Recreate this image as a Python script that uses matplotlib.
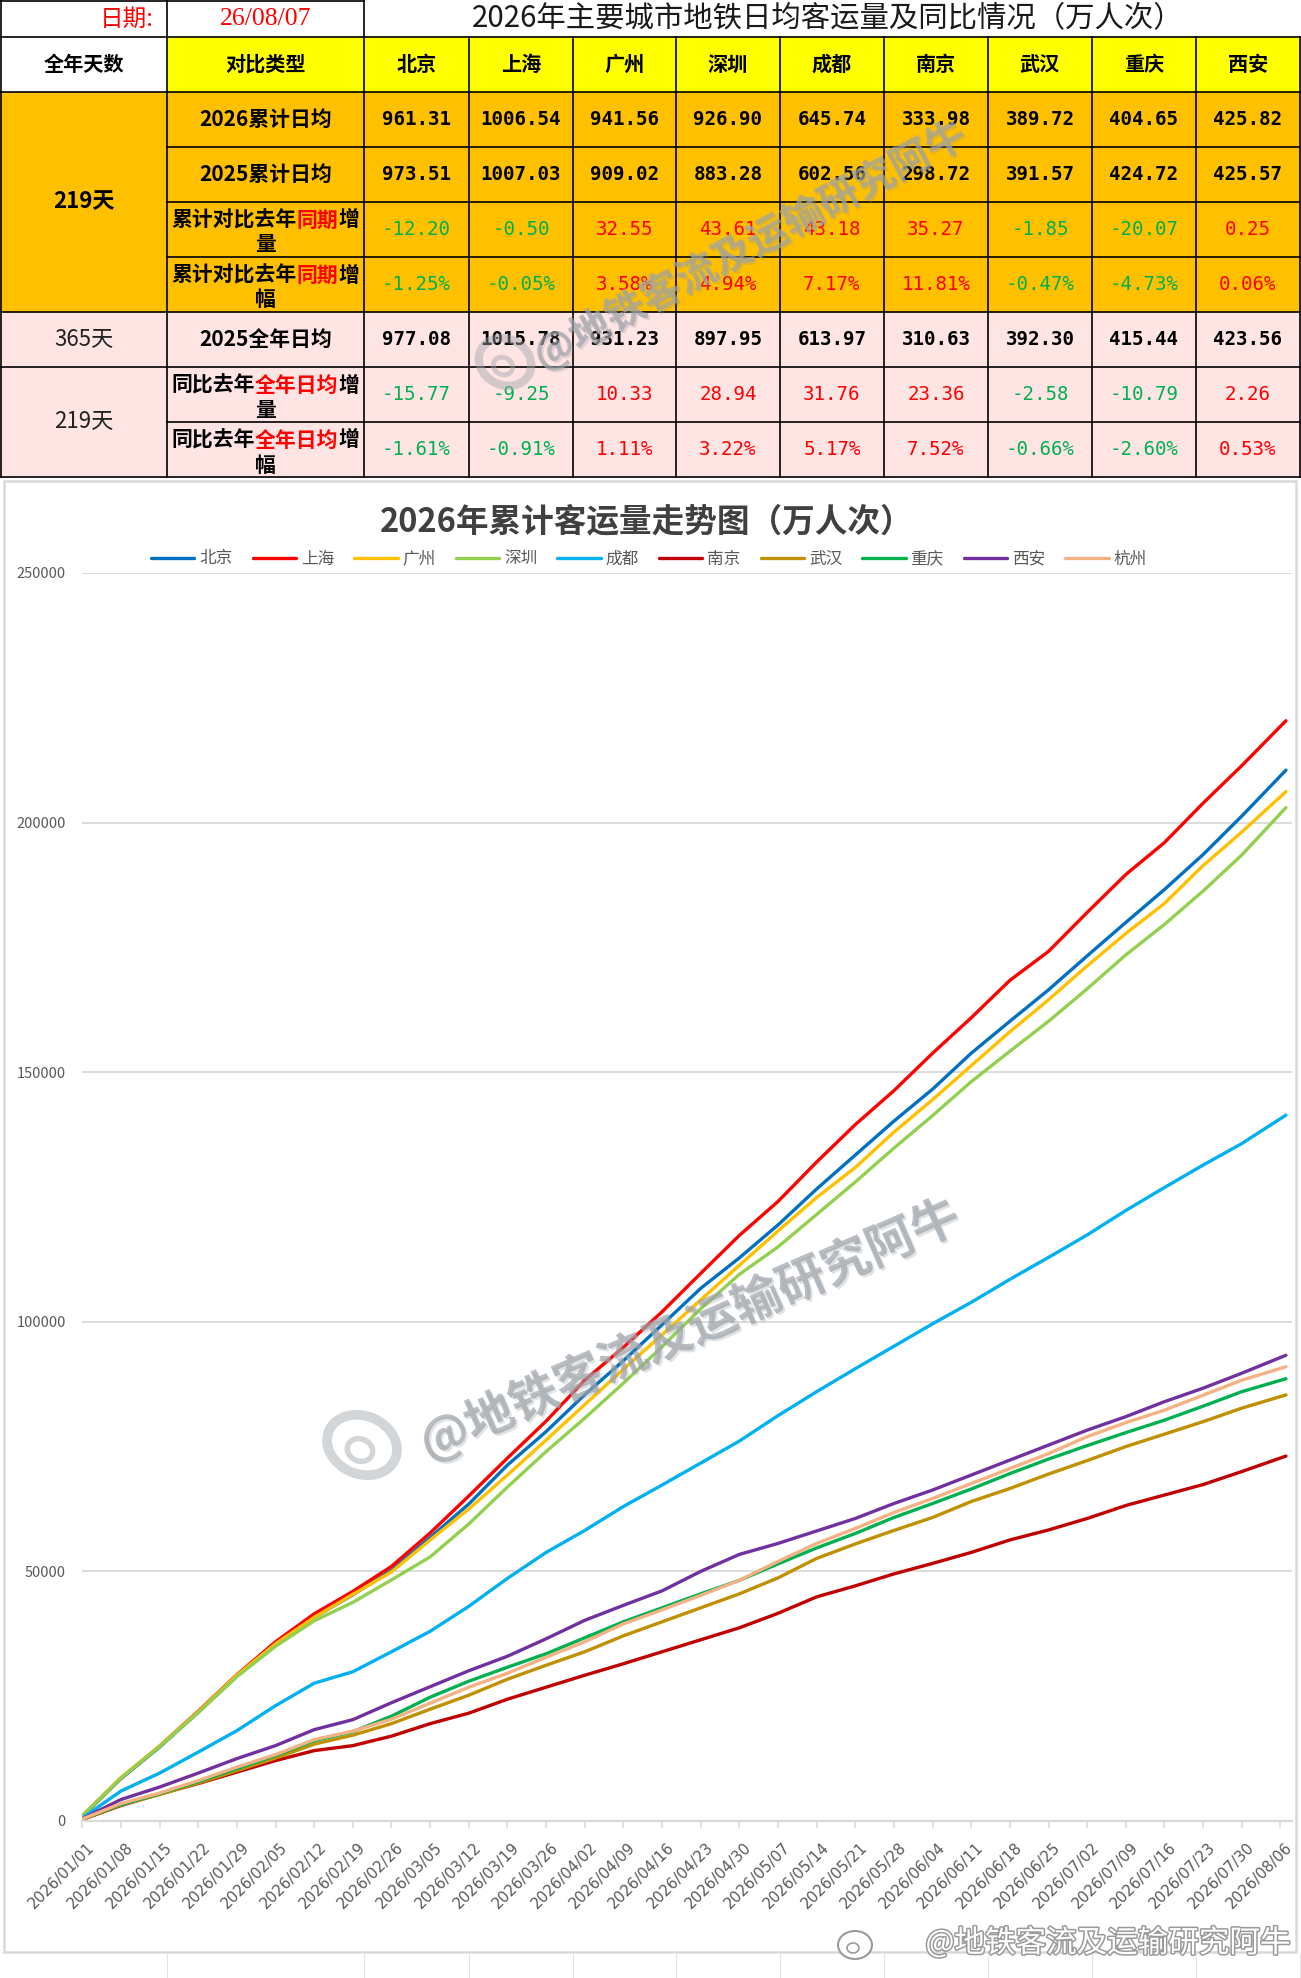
import matplotlib
matplotlib.use('Agg')
import matplotlib.pyplot as plt
from matplotlib.patches import Rectangle, Ellipse
import matplotlib.patheffects as pe
from matplotlib.transforms import ScaledTranslation

plt.rcParams['font.family'] = ['Noto Sans CJK SC', 'DejaVu Sans']

# ---------------- table data ----------------
cities = ['北京', '上海', '广州', '深圳', '成都', '南京', '武汉', '重庆', '西安']
avg_2026_cum = [961.31, 1006.54, 941.56, 926.90, 645.74, 333.98, 389.72, 404.65, 425.82]
avg_2025_cum = [973.51, 1007.03, 909.02, 883.28, 602.56, 298.72, 391.57, 424.72, 425.57]
diff_cum = [-12.20, -0.50, 32.55, 43.61, 43.18, 35.27, -1.85, -20.07, 0.25]
pct_cum = [-1.25, -0.05, 3.58, 4.94, 7.17, 11.81, -0.47, -4.73, 0.06]
avg_2025_full = [977.08, 1015.78, 931.23, 897.95, 613.97, 310.63, 392.30, 415.44, 423.56]
diff_full = [-15.77, -9.25, 10.33, 28.94, 31.76, 23.36, -2.58, -10.79, 2.26]
pct_full = [-1.61, -0.91, 1.11, 3.22, 5.17, 7.52, -0.66, -2.60, 0.53]

# ---------------- chart data (cumulative, 万人次) ----------------
series_names = ['北京', '上海', '广州', '深圳', '成都', '南京', '武汉', '重庆', '西安', '杭州']
series_colors = ['#0070C0', '#FF0000', '#FFC000', '#92D050', '#00B0F0',
                 '#C00000', '#BF9000', '#00B050', '#7030A0', '#F4B183']
days = [0, 7, 14, 21, 28, 35, 42, 49, 56, 63, 70, 77, 84, 91, 98, 105, 112, 119,
        126, 133, 140, 147, 154, 161, 168, 175, 182, 189, 196, 203, 210, 218]
bj = [900, 8500, 14800, 21800, 29100, 35600, 40800, 45300, 50200, 56800, 63500, 71300,
      78000, 85400, 92200, 99400, 106700, 112800, 119400, 126600, 133400, 140200, 146600,
      153800, 160200, 166500, 173300, 180000, 186600, 193600, 201300, 210500]
sh = [1000, 8600, 15000, 22000, 29300, 35900, 41500, 46000, 51000, 57700, 65100, 72700,
      80100, 88300, 94900, 102000, 109700, 117300, 124100, 132000, 139500, 146300, 153800,
      160900, 168400, 174200, 182000, 189600, 196000, 203900, 211400, 220400]
gz = [1000, 8700, 15000, 21900, 29200, 35500, 40800, 45400, 49900, 56300, 62500, 69300,
      76300, 83400, 90500, 97400, 104400, 111300, 118200, 124900, 130900, 138000, 144500,
      151300, 158100, 164500, 171300, 177800, 183800, 191400, 198100, 206200]
sz = [1000, 8600, 14900, 21700, 28900, 35000, 40100, 43800, 48300, 52900, 59500, 66900,
      74000, 80700, 87700, 95000, 102600, 109500, 115000, 121500, 128000, 134800, 141300,
      148100, 154200, 160200, 166700, 173500, 179600, 186300, 193500, 203000]
cd = [600, 6000, 9600, 13800, 18100, 23100, 27600, 29900, 33900, 38000, 43000, 48600,
      53800, 58200, 63000, 67300, 71700, 76100, 81200, 86000, 90600, 95100, 99600,
      103900, 108500, 112900, 117400, 122300, 126900, 131400, 135700, 141400]
nj = [300, 3100, 5400, 7500, 9800, 12100, 14100, 15100, 17000, 19500, 21600, 24400,
      26800, 29200, 31500, 33900, 36300, 38700, 41600, 44900, 47100, 49500, 51600,
      53800, 56300, 58300, 60600, 63200, 65300, 67400, 70000, 73100]
wh = [350, 3200, 5300, 7600, 10100, 12600, 15400, 17200, 19500, 22400, 25200, 28400,
      31200, 33900, 37100, 39900, 42700, 45500, 48700, 52600, 55500, 58200, 60800,
      64000, 66600, 69500, 72200, 75000, 77500, 80000, 82700, 85350]
cq = [400, 3300, 5500, 7900, 10500, 13100, 16100, 17900, 21000, 24800, 28000, 30800,
      33500, 36700, 39900, 42700, 45500, 48200, 51500, 54700, 57600, 60800, 63600,
      66500, 69600, 72500, 75200, 77800, 80300, 83100, 86000, 88600]
xa = [450, 4300, 6800, 9600, 12500, 15100, 18300, 20300, 23700, 26900, 30100, 33000,
      36500, 40200, 43200, 46100, 50000, 53400, 55600, 58100, 60600, 63600, 66300,
      69300, 72300, 75300, 78300, 81000, 84000, 86700, 89700, 93300]
hz = [400, 3500, 5600, 8100, 10800, 13300, 16300, 18000, 20400, 23600, 26800, 29600,
      32800, 35900, 39500, 42300, 45200, 48200, 52000, 55600, 58600, 61800, 64600,
      67600, 70600, 73600, 77000, 79800, 82300, 85300, 88300, 91000]
series_values = [bj, sh, gz, sz, cd, nj, wh, cq, xa, hz]

date_labels = ['2026/01/01', '2026/01/08', '2026/01/15', '2026/01/22', '2026/01/29',
               '2026/02/05', '2026/02/12', '2026/02/19', '2026/02/26', '2026/03/05',
               '2026/03/12', '2026/03/19', '2026/03/26', '2026/04/02', '2026/04/09',
               '2026/04/16', '2026/04/23', '2026/04/30', '2026/05/07', '2026/05/14',
               '2026/05/21', '2026/05/28', '2026/06/04', '2026/06/11', '2026/06/18',
               '2026/06/25', '2026/07/02', '2026/07/09', '2026/07/16', '2026/07/23',
               '2026/07/30', '2026/08/06']
yticks = [0, 50000, 100000, 150000, 200000, 250000]
ytick_labels = ['0', '50000', '100000', '150000', '200000', '250000']

W, H = 1301, 1978
fig = plt.figure(figsize=(W / 100, H / 100), dpi=100)
fig.patch.set_facecolor('white')

# ---------------- chart ----------------
x_left, x_right, y_top, y_bot = 82.3, 1292, 573, 1821
ax = fig.add_axes([x_left / W, 1 - y_bot / H, (x_right - x_left) / W, (y_bot - y_top) / H])
ax.patch.set_alpha(0)
ax.set_xlim(0, 219.1)
ax.set_ylim(0, 250000)
lines = []
for name, col, vals in zip(series_names, series_colors, series_values):
    ln, = ax.plot(days, vals, color=col, lw=2.4, label=name,
                  solid_joinstyle='round', solid_capstyle='round')
    lines.append(ln)
ax.set_yticks(yticks)
ax.set_yticklabels(ytick_labels)
ax.yaxis.grid(True, color='#D9D9D9', lw=1.3)
ax.set_axisbelow(True)
for s in ['top', 'right', 'left']:
    ax.spines[s].set_visible(False)
ax.spines['bottom'].set_color('#D9D9D9')
ax.spines['bottom'].set_linewidth(1.6)
ax.tick_params(axis='y', length=0, pad=12, labelsize=10.5, labelcolor='#595959')
tick_pos = list(range(0, 218, 7))
ax.set_xticks(tick_pos)
ax.set_xticklabels(date_labels, rotation=45, ha='right', va='center',
                   rotation_mode='anchor', fontsize=10.8, color='#595959',
                   family=['DejaVu Sans'])
ax.tick_params(axis='x', length=5, width=1.2, color='#D9D9D9', pad=12.5, direction='out')
off = ScaledTranslation(10 / 100, 0, fig.dpi_scale_trans)
for lab in ax.get_xticklabels():
    lab.set_transform(lab.get_transform() + off)

fig.text(647 / W, 1 - 522 / H, '2026年累计客运量走势图（万人次）', ha='center', va='center',
         fontsize=23.5, fontweight='bold', color='#404040')
fig.legend(handles=lines, loc='center', bbox_to_anchor=(649 / W, 1 - 559 / H), ncol=10,
           frameon=False, fontsize=12, handlelength=2.6, handletextpad=0.3,
           columnspacing=1.2, labelcolor='#595959')

# ---------------- overlay (table, borders, watermarks) ----------------
ov = fig.add_axes([0, 0, 1, 1])
ov.set_xlim(0, W)
ov.set_ylim(H, 0)
ov.axis('off')
ov.patch.set_alpha(0)
ov.set_zorder(5)

col_edges = [0, 167, 364, 469, 573, 676, 780, 884, 988, 1092, 1196, 1300]
row_edges = [0, 37, 92, 147, 202, 257, 312, 367, 422, 477]
YEL, ORG, PNK = '#FFFF00', '#FFC000', '#FFE4E4'
RED, GRN = '#FF0000', '#00B050'


def fill(x0, x1, y0, y1, c):
    ov.add_patch(Rectangle((x0, y0), x1 - x0, y1 - y0, facecolor=c, edgecolor='none', zorder=1))


fill(167, 1300, 37, 92, YEL)
fill(0, 1300, 92, 312, ORG)
fill(0, 1300, 312, 477, PNK)

lw = 1.2
ov.plot([0, 364], [0.8, 0.8], color='k', lw=lw, zorder=3)
for y in [37, 92, 312, 367, 477]:
    ov.plot([0, 1300], [y, y], color='k', lw=lw, zorder=3)
for y in [147, 202, 257, 422]:
    ov.plot([167, 1300], [y, y], color='k', lw=lw, zorder=3)
for x in [0.8, 167, 364]:
    ov.plot([x, x], [0, 477], color='k', lw=lw, zorder=3)
for x in col_edges[3:]:
    ov.plot([x, x], [37, 477], color='k', lw=lw, zorder=3)

# row 0
ov.text(154, 19, '日期:', ha='right', va='center', fontsize=17, color=RED, zorder=4)
ov.text(265.5, 19, '26/08/07', ha='center', va='center', fontsize=18.5, color=RED,
        family=['Liberation Serif'], zorder=4)
ov.text(828, 19, '2026年主要城市地铁日均客运量及同比情况（万人次）', ha='center', va='center',
        fontsize=21.2, color='#1a1a1a', zorder=4)
# header row
ov.text(83.5, 64.5, '全年天数', ha='center', va='center', fontsize=14.5, fontweight='bold', zorder=4)
ov.text(265.5, 64.5, '对比类型', ha='center', va='center', fontsize=14.5, fontweight='bold', zorder=4)
col_cx = [(col_edges[i] + col_edges[i + 1]) / 2 for i in range(2, 11)]
for cx, c in zip(col_cx, cities):
    ov.text(cx, 64.5, c, ha='center', va='center', fontsize=14.5, fontweight='bold', zorder=4)
# first column
ov.text(83.5, 202, '219天', ha='center', va='center', fontsize=16, fontweight='bold', zorder=4)
ov.text(83.5, 339.5, '365天', ha='center', va='center', fontsize=16, color='#222222', zorder=4)
ov.text(83.5, 422, '219天', ha='center', va='center', fontsize=16, color='#222222', zorder=4)

# second column labels
FS = 15
EM = FS * 100 / 72


def rich_line(parts, cx, y):
    n = sum(len(t) for t, _ in parts)
    x = cx - n * EM / 2
    for t, c in parts:
        ov.text(x, y, t, ha='left', va='center', fontsize=FS, color=c, fontweight='bold', zorder=4)
        x += len(t) * EM


ov.text(265.5, 119.5, '2026累计日均', ha='center', va='center', fontsize=FS, fontweight='bold', zorder=4)
ov.text(265.5, 174.5, '2025累计日均', ha='center', va='center', fontsize=FS, fontweight='bold', zorder=4)
ov.text(265.5, 339.5, '2025全年日均', ha='center', va='center', fontsize=FS, fontweight='bold', zorder=4)
wrapped = [(202, [('累计对比去年', 'k'), ('同期', RED), ('增', 'k')], '量'),
           (257, [('累计对比去年', 'k'), ('同期', RED), ('增', 'k')], '幅'),
           (367, [('同比去年', 'k'), ('全年日均', RED), ('增', 'k')], '量'),
           (422, [('同比去年', 'k'), ('全年日均', RED), ('增', 'k')], '幅')]
for top, parts, last in wrapped:
    rich_line(parts, 265.5, top + 18)
    ov.text(265.5, top + 43, last, ha='center', va='center', fontsize=FS, fontweight='bold', zorder=4)

# numbers
NUMF = ['DejaVu Sans Mono']


def num_row(vals, yc, pct=False, colored=False):
    for cx, v in zip(col_cx, vals):
        s = f'{v:.2f}%' if pct else f'{v:.2f}'
        if colored:
            ov.text(cx, yc, s, ha='center', va='center', fontsize=13.8,
                    color=(GRN if v < 0 else RED), family=NUMF, zorder=4)
        else:
            ov.text(cx, yc, s, ha='center', va='center', fontsize=13.8, color='k',
                    family=NUMF, fontweight='bold', zorder=4)


num_row(avg_2026_cum, 119.5)
num_row(avg_2025_cum, 174.5)
num_row(diff_cum, 229.5, colored=True)
num_row(pct_cum, 284.5, pct=True, colored=True)
num_row(avg_2025_full, 339.5)
num_row(diff_full, 394.5, colored=True)
num_row(pct_full, 449.5, pct=True, colored=True)

# chart area border and sheet gridlines below
ov.add_patch(Rectangle((3.5, 481), 1292, 1471, facecolor='none', edgecolor='#D9D9D9', lw=1.8, zorder=2))
for x in col_edges[1:]:
    ov.plot([x, x], [1954, 1978], color='#E3E3E3', lw=0.8, zorder=1)

# watermarks
wm_col = '#9EA4AA'
wm_a = 0.45
shadow = [pe.withSimplePatchShadow(offset=(1.5, -1.5), shadow_rgbFace='#8A8F96', alpha=0.25), pe.Normal()]
ov.text(690, 1330, '@地铁客流及运输研究阿牛', rotation=23.5, ha='center', va='center',
        fontsize=35, fontweight='bold', color=wm_col, alpha=wm_a, zorder=6, path_effects=shadow)
ov.add_patch(Ellipse((362, 1445), 72, 58, angle=23.5, facecolor='none', edgecolor=wm_col, lw=7, zorder=6, alpha=wm_a))
ov.add_patch(Ellipse((360, 1450), 26, 22, angle=23.5, facecolor='none', edgecolor=wm_col, lw=4, zorder=6, alpha=wm_a))
ov.text(750, 246, '@地铁客流及运输研究阿牛', rotation=28, ha='center', va='center',
        fontsize=29, fontweight='bold', color=wm_col, alpha=wm_a, zorder=6, path_effects=shadow)
ov.add_patch(Ellipse((505, 362), 54, 46, angle=28, facecolor='none', edgecolor=wm_col, lw=6, zorder=6, alpha=wm_a))
ov.add_patch(Ellipse((503, 366), 20, 17, angle=28, facecolor='none', edgecolor=wm_col, lw=3.5, zorder=6, alpha=wm_a))
ov.text(1290, 1943, '@地铁客流及运输研究阿牛', ha='right', va='center', fontsize=22,
        color='white', zorder=7,
        path_effects=[pe.withStroke(linewidth=2.2, foreground='#9A9A9A')])
ov.add_patch(Ellipse((855, 1945), 34, 28, facecolor='white', edgecolor='#9A9A9A', lw=1.5, zorder=7))
ov.add_patch(Ellipse((853, 1948), 12, 10, facecolor='white', edgecolor='#9A9A9A', lw=1.2, zorder=7))

fig.savefig('out.png', dpi=100, facecolor='white')
